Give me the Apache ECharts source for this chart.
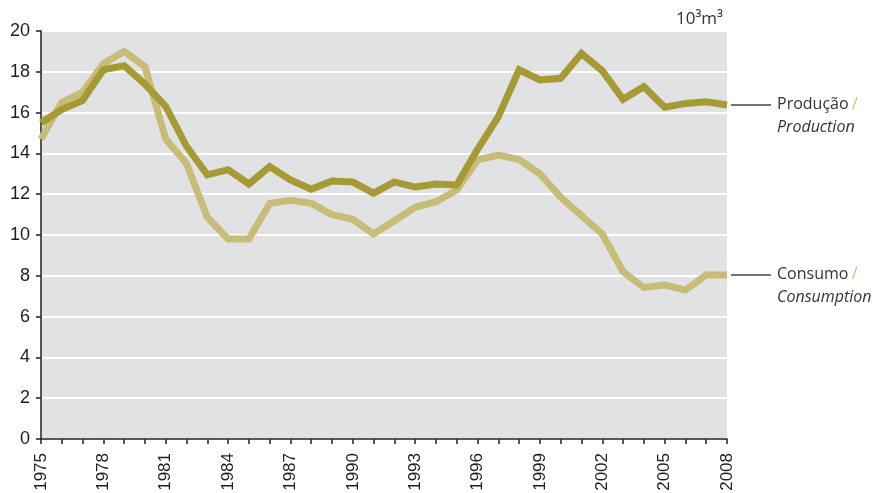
<!DOCTYPE html>
<html>
<head>
<meta charset="utf-8">
<script src="https://cdn.jsdelivr.net/npm/echarts@6/dist/echarts.min.js"></script>
<style>
  html, body { margin: 0; padding: 0; background: #fff; }
  #chart { width: 876px; height: 493px; }
</style>
</head>
<body>
<div id="chart"></div>
<script>
// anos 1975-2008
const years = [];
for (let y = 1975; y <= 2008; y++) years.push(String(y));

// Produção / Production (10³m³)
const production = [15.5, 16.15, 16.6, 18.1, 18.3, 17.4, 16.3, 14.35, 12.95, 13.2,
  12.5, 13.35, 12.7, 12.25, 12.65, 12.6, 12.05, 12.6, 12.35, 12.5,
  12.45, 14.2, 15.8, 18.1, 17.6, 17.68, 18.9, 18.05, 16.65, 17.27,
  16.26, 16.45, 16.53, 16.37];

// Consumo / Consumption (10³m³)
const consumption = [14.7, 16.5, 17.0, 18.4, 19.0, 18.25, 14.7, 13.5, 10.87, 9.8,
  9.8, 11.55, 11.7, 11.55, 11.0, 10.77, 10.05, 10.7, 11.36, 11.63,
  12.2, 13.68, 13.92, 13.7, 13.0, 11.85, 10.95, 10.05, 8.2, 7.43,
  7.55, 7.3, 8.04, 8.04];

const colProd = '#a59a34';
const colCons = '#c8bd78';
const txt = '#1e1e1e';
const tickFont = '"Liberation Sans", Arial, sans-serif';
const font = '"Open Sans", "DejaVu Sans", sans-serif';

const chart = echarts.init(document.getElementById('chart'));

chart.setOption({
  animation: false,
  backgroundColor: '#fff',
  title: {
    text: '10³m³',
    right: 148, top: 6,
    textStyle: { fontSize: 17, fontWeight: 'normal', color: '#333', fontFamily: font }
  },
  grid: {
    left: 41, right: 149, top: 31, bottom: 54,
    containLabel: false, outerBoundsMode: 'none',
    show: true, backgroundColor: '#e1e2e4', borderWidth: 0
  },
  xAxis: {
    type: 'category',
    data: years,
    boundaryGap: false,
    axisLine: { lineStyle: { color: '#222', width: 1.5 } },
    axisTick: { interval: 0, length: 5, lineStyle: { color: '#222', width: 1.5 } },
    axisLabel: {
      interval: 2, rotate: 90, margin: 14,
      color: txt, fontSize: 17, fontFamily: tickFont
    },
    splitLine: { show: false }
  },
  yAxis: {
    type: 'value',
    min: 0, max: 20, interval: 2,
    axisLine: { show: true, lineStyle: { color: '#222', width: 1.5 } },
    axisTick: { show: true, length: 5, lineStyle: { color: '#222', width: 1.5 } },
    axisLabel: { color: txt, fontSize: 18, margin: 11, fontFamily: tickFont },
    splitLine: { lineStyle: { color: '#fff', width: 2 } }
  },
  series: [
    {
      name: 'Consumo',
      type: 'line',
      data: consumption,
      symbol: 'none',
      z: 2,
      lineStyle: { color: colCons, width: 7, join: 'miter' }
    },
    {
      name: 'Produção',
      type: 'line',
      data: production,
      symbol: 'none',
      z: 3,
      lineStyle: { color: colProd, width: 7, join: 'miter' }
    }
  ]
});

// etiquetas à direita com linhas de chamada
function sideLabel(value, top, bottom) {
  const p = chart.convertToPixel({ gridIndex: 0 }, [years.length - 1, value]);
  return [
    {
      type: 'line',
      shape: { x1: p[0] + 4, y1: p[1], x2: p[0] + 44, y2: p[1] },
      style: { stroke: '#444', lineWidth: 1.5 }
    },
    {
      type: 'text',
      x: p[0] + 50, y: p[1] - 12,
      style: {
        text: '{a|' + top + '} {s|/}\n{i|' + bottom + '}',
        lineHeight: 23,
        rich: {
          a: { fontSize: 16, fill: '#333', fontFamily: font, lineHeight: 23 },
          s: { fontSize: 16, fill: colCons, fontFamily: font, lineHeight: 23 },
          i: { fontSize: 16, fill: '#333', fontStyle: 'italic', fontFamily: font, lineHeight: 23 }
        }
      }
    }
  ];
}

chart.setOption({
  graphic: [
    ...sideLabel(production[production.length - 1], 'Produção', 'Production'),
    ...sideLabel(consumption[consumption.length - 1], 'Consumo', 'Consumption')
  ]
});
</script>
</body>
</html>
